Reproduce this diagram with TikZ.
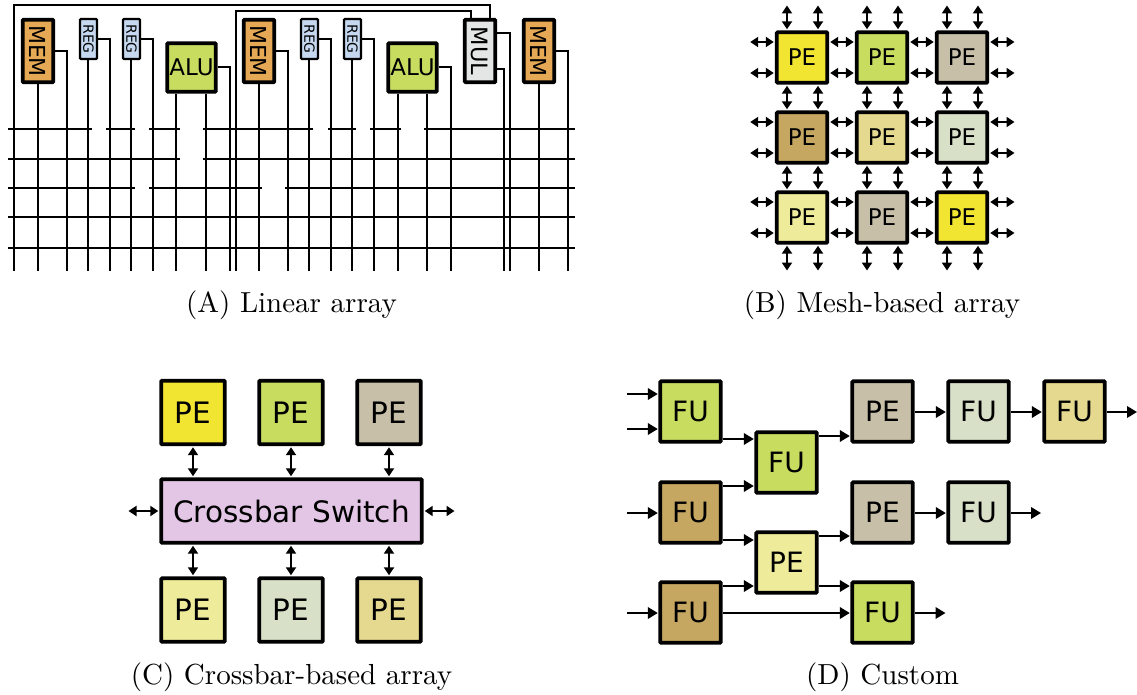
\documentclass[tikz,border=0pt]{standalone}
\usepackage{fontspec}
\usepackage{graphicx}
\usetikzlibrary{arrows.meta}
\newfontfamily\pefont{DejaVu Sans}
\definecolor{cyellow}{HTML}{F2E531}
\definecolor{cgreen}{HTML}{C8DC60}
\definecolor{ctan}{HTML}{C8BFA8}
\definecolor{cbrown}{HTML}{C6A762}
\definecolor{csand}{HTML}{E5D990}
\definecolor{csage}{HTML}{D8E0C8}
\definecolor{cpale}{HTML}{EEEC9B}
\definecolor{cmem}{HTML}{E5A854}
\definecolor{creg}{HTML}{C5D8F0}
\definecolor{cmul}{HTML}{E3E6E5}
\definecolor{cswitch}{HTML}{E3C5E6}
\tikzset{
  unit/.style={draw=black, line width=3.9pt, rounded corners=1pt, inner sep=0pt, align=center},
  wire/.style={line width=2pt, black},
  link/.style={line width=2pt, {Triangle[length=8pt,width=10pt]}-{Triangle[length=8pt,width=10pt]}, shorten <=1pt, shorten >=1pt},
  flow/.style={line width=2pt, -{Triangle[length=10pt,width=11.5pt]}, shorten >=0.5pt},
  caption/.style={scale=2.9, inner sep=0pt},
}
\begin{document}
\begin{tikzpicture}[x=1pt,y=-1pt]
\useasboundingbox (0,0) rectangle (1137,695);

% linear array
\coordinate (wirebot) at (0,271);
\foreach \y/\a/\b in {129/8/92,129/106/135,129/149/180,129/203/313,129/328/356,129/370/401,129/424/575,
  159/8/180,159/203/575,188/8/135,188/149/262,188/285/575,217/8/575,248/8/575}{
  \coordinate (busl) at (\a,\y);
  \coordinate (busr) at (\b,\y);
  \draw[wire] (busl) -- (busr);
}
\foreach \n/\x in {mem1/38,mem2/259,mem3/539}
  \node[unit,fill=cmem,minimum width=30.5pt,minimum height=62.5pt,font=\pefont\fontsize{22}{22}\selectfont] (\n) at (\x,51) {\rotatebox{-90}{MEM}};
\foreach \n/\x in {reg1/88.5,reg2/131.5,reg3/309.5,reg4/352.5}
  \node[unit,line width=2.4pt,fill=creg,minimum width=17pt,minimum height=40pt,font=\pefont\fontsize{14}{14}\selectfont] (\n) at (\x,39) {\rotatebox{-90}{REG}};
\foreach \n/\x in {alu1/191.5,alu2/412.5}
  \node[unit,fill=cgreen,minimum size=48.5pt,font=\pefont\fontsize{23}{23}\selectfont] (\n) at (\x,67.5) {ALU};
\node[unit,fill=cmul,minimum width=30.5pt,minimum height=62.5pt,font=\pefont\fontsize{22.5}{23}\selectfont] (mul) at (480,51) {\rotatebox{-90}{MUL}};

\foreach \n/\s in {mem1/0,reg1/-0.5,reg2/-0.5,alu1/-15.5,alu1/14.5,mem2/0,reg3/-0.5,reg4/-0.5,alu2/-14.5,alu2/14.5,mem3/0}
  \draw[wire] ([xshift=\s pt]\n.south) -- ([xshift=\s pt]\n.south |- wirebot);
\foreach \n/\x/\y in {mem1/67/51,reg1/110/39,reg2/153/39,alu1/230/67,mem2/288/51,reg3/331/39,reg4/374/39,alu2/451/67,mem3/568/51}{
  \coordinate (wire\n) at (\x,271);
  \draw[wire] (\n.east |- 0,\y) -| (wire\n);
}
\coordinate (mulhi) at (510,271);
\coordinate (mullo) at (504,271);
\draw[wire] (mul.east |- 0,33) -| (mulhi);
\draw[wire] (mul.east |- 0,69) -| (mullo);
\coordinate (backa) at (14,5);
\coordinate (enda) at (14,271);
\coordinate (backb) at (236,11);
\coordinate (endb) at (236,271);
\draw[wire] ([xshift=10pt]mul.north) |- (backa) -- (enda);
\draw[wire] ([xshift=-9pt]mul.north) |- (backb) -- (endb);
\node[caption] (capa) at (291.5,305) {(A) Linear array};

% mesh
\foreach \n/\x/\y/\f in {11/802/57.5/cyellow,12/882/57.5/cgreen,13/962/57.5/ctan,
  21/802/137.5/cbrown,22/882/137.5/csand,23/962/137.5/csage,
  31/802/217.5/cpale,32/882/217.5/ctan,33/962/217.5/cyellow}
  \node[unit,fill=\f,minimum size=50.5pt,font=\pefont\fontsize{23}{23}\selectfont] (pe\n) at (\x,\y) {PE};
\coordinate (meshtop) at (0,4.5);
\coordinate (meshbot) at (0,271.5);
\coordinate (meshleft) at (749.2,0);
\coordinate (meshright) at (1015.5,0);
\foreach \c in {1,2,3}
  \foreach \s in {-15,16}{
    \draw[link] ([xshift=\s pt]pe1\c.north) -- ([xshift=\s pt]pe1\c.north |- meshtop);
    \draw[link] ([xshift=\s pt]pe1\c.south) -- ([xshift=\s pt]pe2\c.north);
    \draw[link] ([xshift=\s pt]pe2\c.south) -- ([xshift=\s pt]pe3\c.north);
    \draw[link] ([xshift=\s pt]pe3\c.south) -- ([xshift=\s pt]pe3\c.south |- meshbot);
  }
\foreach \r in {1,2,3}
  \foreach \s in {-15.5,15.5}{
    \draw[link] ([yshift=\s pt]pe\r1.west) -- ([yshift=\s pt]pe\r1.west -| meshleft);
    \draw[link] ([yshift=\s pt]pe\r1.east) -- ([yshift=\s pt]pe\r2.west);
    \draw[link] ([yshift=\s pt]pe\r2.east) -- ([yshift=\s pt]pe\r3.west);
    \draw[link] ([yshift=\s pt]pe\r3.east) -- ([yshift=\s pt]pe\r3.east -| meshright);
  }
\node[caption] (capb) at (882,305) {(B) Mesh-based array};

% crossbar
\node[unit,fill=cswitch,minimum width=260.5pt,minimum height=63.5pt,font=\pefont\fontsize{29.5}{30}\selectfont] (xbar) at (291.5,511) {Crossbar Switch};
\foreach \n/\x/\f in {a/193/cyellow,b/291/cgreen,c/389/ctan}{
  \node[unit,fill=\f,minimum size=63.5pt,font=\pefont\fontsize{29.5}{29}\selectfont] (top\n) at (\x,412.5) {PE};
  \draw[link] (top\n.south) -- (top\n.south |- xbar.north);
}
\foreach \n/\x/\f in {a/193/cpale,b/291/csage,c/389/csand}{
  \node[unit,fill=\f,minimum size=63.5pt,font=\pefont\fontsize{29.5}{29}\selectfont] (bot\n) at (\x,610) {PE};
  \draw[link] (bot\n.north) -- (bot\n.north |- xbar.south);
}
\coordinate (xleft) at (127.5,511);
\coordinate (xright) at (455.5,511);
\draw[link] (xbar.west) -- (xleft);
\draw[link] (xbar.east) -- (xright);
\node[caption] (capc) at (291.5,677) {(C) Crossbar-based array};

% custom
\foreach \n/\x/\y/\f/\t in {fa/690.5/411.5/cgreen/FU,fb/690.5/512.5/cbrown/FU,fc/690.5/612.5/cbrown/FU,
  fd/786.5/462.5/cgreen/FU,pa/786.5/562.5/cpale/PE,
  pb/882.5/411.5/ctan/PE,pc/882.5/512.5/ctan/PE,fe/882.5/612.5/cgreen/FU,
  ff/978.5/411.5/csage/FU,fg/978.5/512.5/csage/FU,fh/1074.5/411.5/csand/FU}
  \node[unit,fill=\f,minimum size=60.5pt,font=\pefont\fontsize{28}{28}\selectfont] (\n) at (\x,\y) {\t};
\coordinate (inx) at (627,0);
\foreach \n/\y in {fa/394,fa/429,fb/513,fc/613}
  \draw[flow] (inx |- 0,\y) -- (\n.west |- 0,\y);
\foreach \a/\b/\y in {fa/fd/439,fb/fd/486,fb/pa/540,fc/pa/586,fd/pb/436,pa/pc/536,pa/fe/586,fc/fe/613,
  pb/ff/412,ff/fh/412,pc/fg/513}
  \draw[flow] (\a.east |- 0,\y) -- (\b.west |- 0,\y);
\coordinate (outa) at (1137.5,412);
\coordinate (outb) at (1041.5,513);
\coordinate (outc) at (946,613);
\draw[flow] (fh.east |- outa) -- (outa);
\draw[flow] (fg.east |- outb) -- (outb);
\draw[flow] (fe.east |- outc) -- (outc);
\node[caption] (capd) at (882.5,677) {(D) Custom};
\end{tikzpicture}
\end{document}
